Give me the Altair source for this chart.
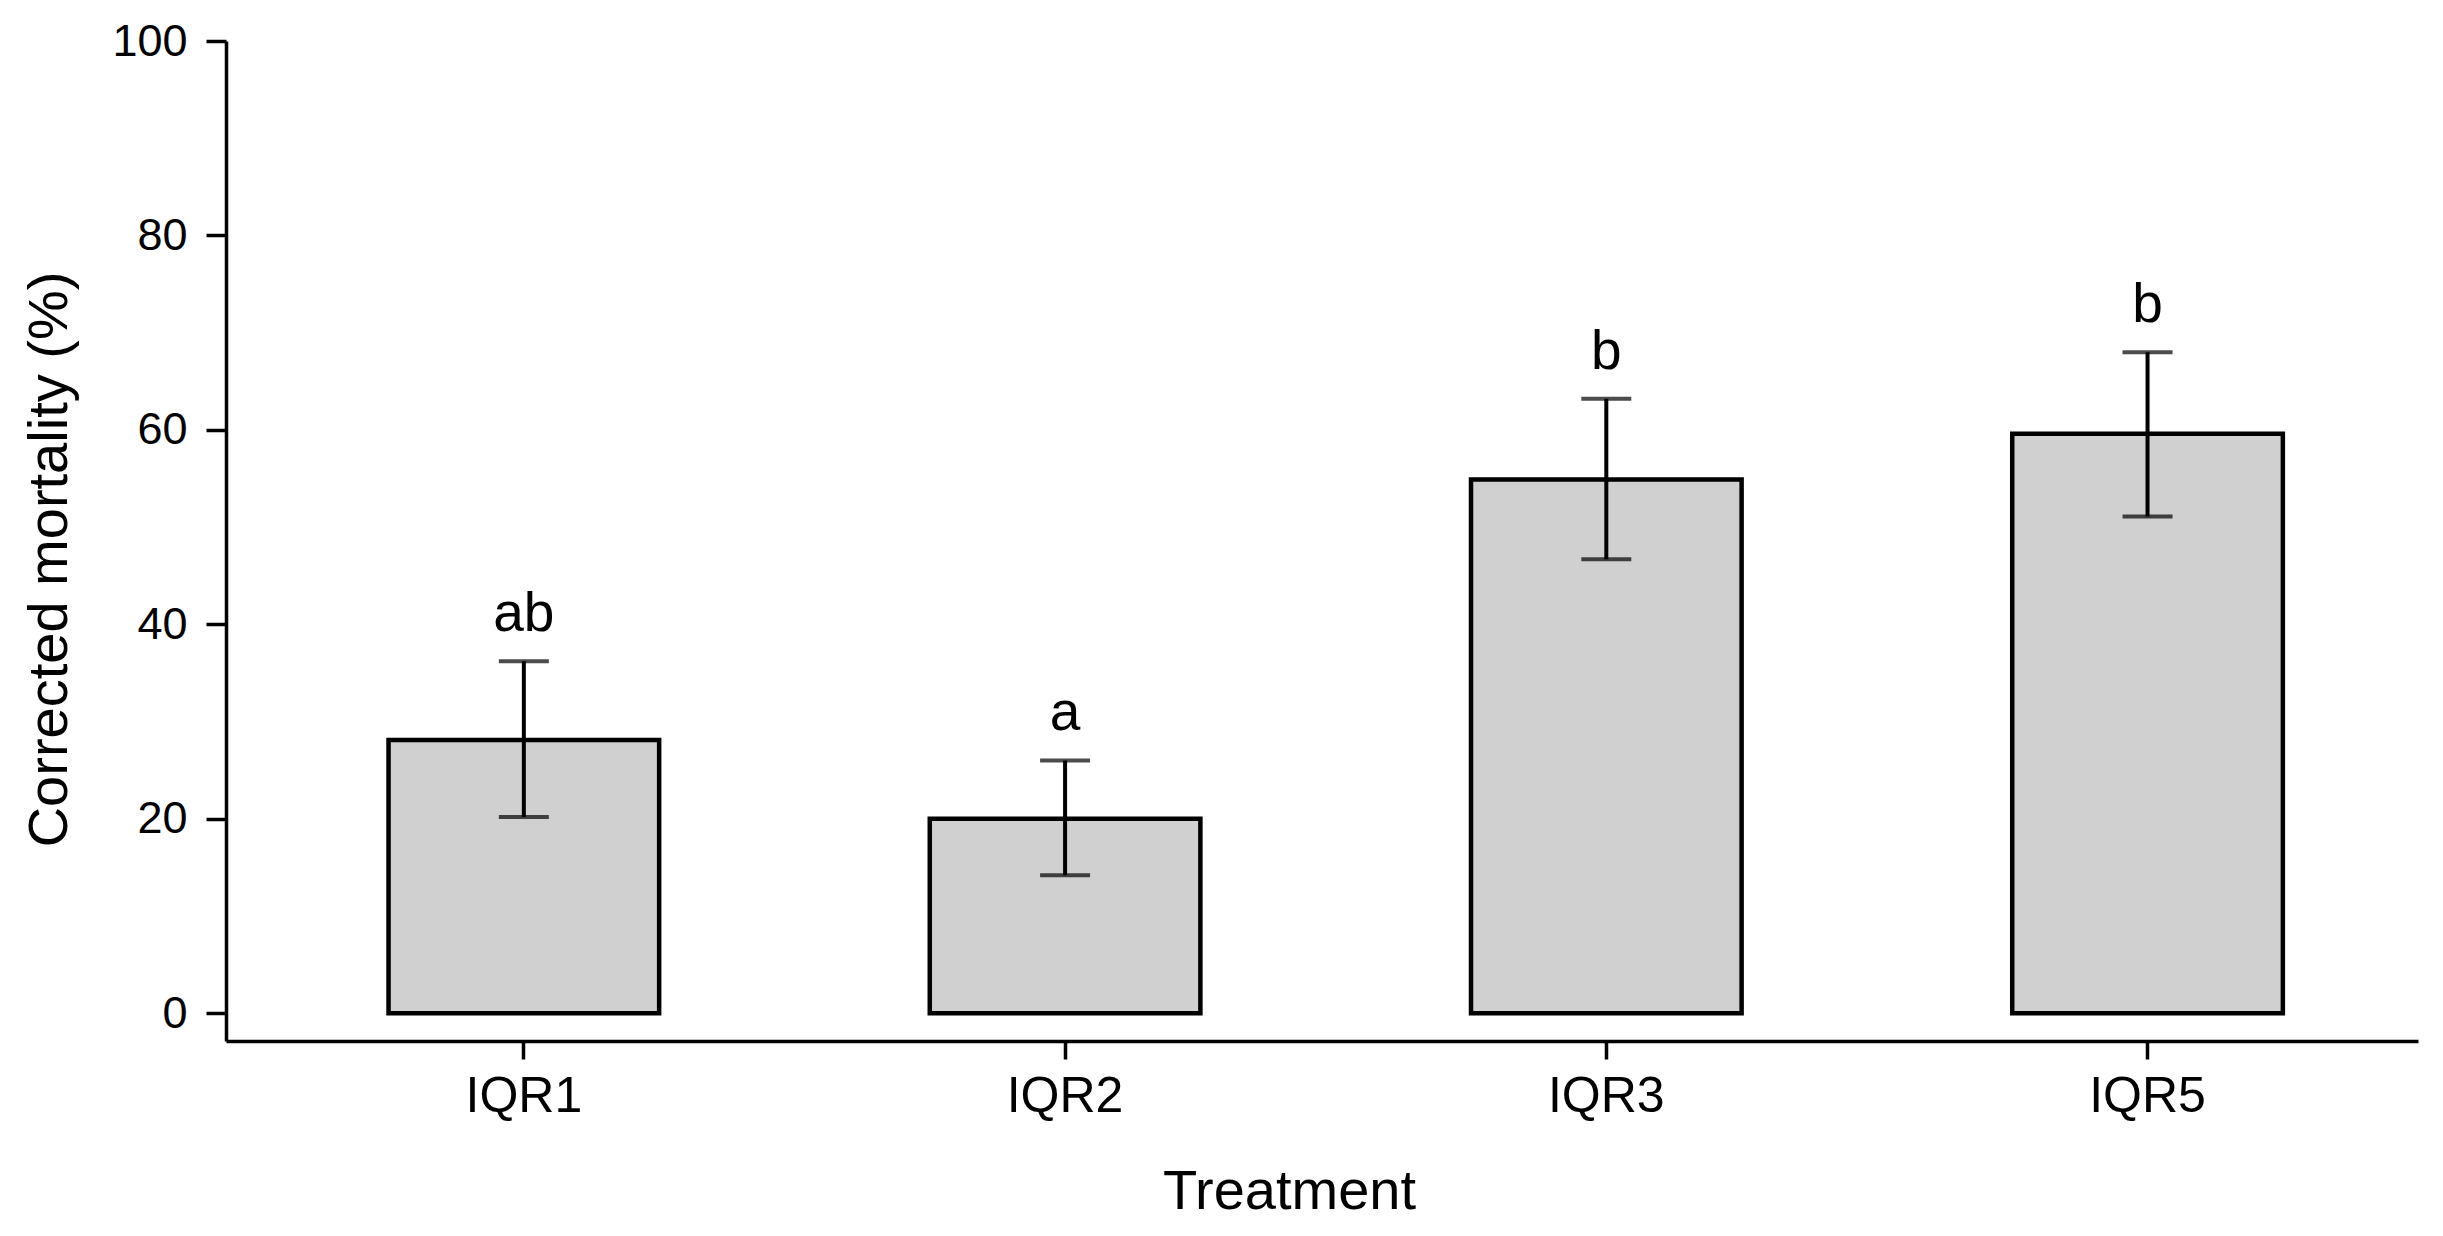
import altair as alt
import pandas as pd

treatments = ["IQR1", "IQR2", "IQR3", "IQR5"]
mortality = [28.1, 20.0, 54.9, 59.6]
err_low = [20.2, 14.2, 46.7, 51.1]
err_high = [36.2, 26.0, 63.2, 68.0]
letters = ["ab", "a", "b", "b"]
y_ticks = [0, 20, 40, 60, 80, 100]

df = pd.DataFrame({
    "Treatment": treatments,
    "mortality": mortality,
    "low": err_low,
    "high": err_high,
    "letter": letters,
})

FONT = "Liberation Sans"

x_enc = alt.X(
    "Treatment:N",
    sort=treatments,
    scale=alt.Scale(paddingInner=0.5, paddingOuter=0.275, align=0.546),
    axis=alt.Axis(
        title="Treatment",
        labelAngle=0,
        labelFontSize=50,
        labelFont=FONT,
        labelColor="black",
        labelPadding=12,
        tickSize=18,
        tickWidth=3.5,
        tickColor="black",
        domainColor="black",
        domainWidth=3.5,
        titleFontSize=56,
        titleFont=FONT,
        titleFontWeight="normal",
        titleColor="black",
        titleX=1063,
        titleY=167,
        titleAlign="center",
        titleBaseline="alphabetic",
    ),
)

y_scale = alt.Scale(domain=[-2.85, 100], nice=False, zero=False)
y_axis = alt.Axis(
    title="Corrected mortality (%)",
    values=y_ticks,
    grid=False,
    labelFontSize=45,
    labelFont=FONT,
    labelColor="black",
    labelPadding=19,
    tickSize=20,
    tickWidth=3.5,
    tickColor="black",
    domainColor="black",
    domainWidth=3.5,
    titleFontSize=56,
    titleFont=FONT,
    titleFontWeight="normal",
    titleColor="black",
    titleAngle=270,
    titleX=-160,
    titleY=518,
    titleAlign="center",
    titleBaseline="alphabetic",
)

base = alt.Chart(df)

bars = base.mark_bar(color="#d0d0d0", stroke="black", strokeWidth=4.5).encode(
    x=x_enc,
    y=alt.Y("mortality:Q", scale=y_scale, axis=y_axis),
    y2=alt.datum(0),
)

rule = base.mark_rule(color="black", strokeWidth=4).encode(
    x=alt.X("Treatment:N", sort=treatments),
    y=alt.Y("low:Q"),
    y2="high:Q",
)

cap_low = base.mark_tick(color="black", size=50, thickness=4, orient="horizontal").encode(
    x=alt.X("Treatment:N", sort=treatments),
    y=alt.Y("low:Q"),
)
cap_high = base.mark_tick(color="black", size=50, thickness=4, orient="horizontal").encode(
    x=alt.X("Treatment:N", sort=treatments),
    y=alt.Y("high:Q"),
)

text = base.mark_text(
    fontSize=55, font=FONT, color="black", baseline="alphabetic", align="center", dy=-30
).encode(
    x=alt.X("Treatment:N", sort=treatments),
    y=alt.Y("high:Q"),
    text="letter:N",
)

chart = (
    alt.layer(bars, rule, cap_low, cap_high, text)
    .properties(
        width=2192,
        height=1000,
        autosize=alt.AutoSizeParams(type="none"),
        padding={"left": 218, "top": 33, "right": 10, "bottom": 190},
        background="white",
    )
    .configure_view(stroke=None)
)

chart.save("out.html", embed_options={"renderer": "svg", "actions": False})
